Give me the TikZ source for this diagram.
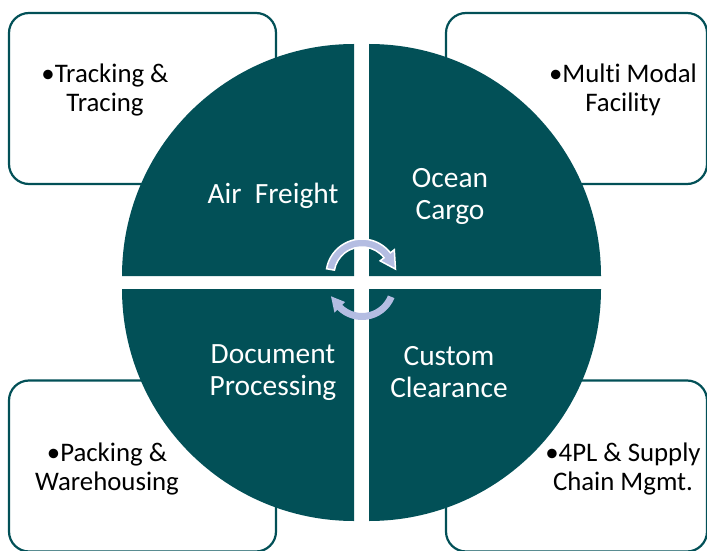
\documentclass[tikz,border=0pt]{standalone}
\usepackage{fontspec}
\setmainfont{Carlito}[Ligatures=NoCommon]
\usetikzlibrary{positioning}
\definecolor{quadTeal}{RGB}{2,80,87}
\definecolor{arrowBlue}{RGB}{180,189,226}
\tikzset{
    quadrant/.pic={
		\fill[quadTeal] (0,0) -- (232,0) arc (0:90:232) -- cycle;
	}
}
\tikzset{
    infoBox/.style={draw=quadTeal, line width=2.2pt, rounded corners=20pt, minimum width=267pt, minimum height=171pt, inner sep=0pt},
    infoText/.style={align=center, inner sep=0pt, font=\fontsize{26.8}{29.5}\selectfont},
    quadText/.style={align=center, inner sep=0pt, text=white, font=\fontsize{29.4}{32}\selectfont},
    arrowShape/.style={fill=arrowBlue}
}

\begin{document}
\begin{tikzpicture}[x=1pt,y=1pt]
        \useasboundingbox (0,0) rectangle (707,550);
        \clip (0,0) rectangle (707,550);
        % corner boxes
        \node[infoBox] (trackBox) at (142.5,451.5) {};
        \node[infoBox, minimum width=261pt] (modalBox) at (576.5,451.5) {};
        \node[infoBox] (packBox) at (142.5,84) {};
        \node[infoBox, minimum width=261pt] (supplyBox) at (576.5,84) {};
        \node[infoText] (trackText) at (105,460) {\textbullet Tracking \&\\Tracing};
        \node[infoText] (modalText) at (623,460) {\textbullet Multi Modal\\Facility};
        \node[infoText] (packText) at (107,81) {\textbullet Packing \&\\Warehousing};
        \node[infoText] (supplyText) at (623,81) {\textbullet 4PL \& Supply\\Chain Mgmt.};
        % circle
        \pic[rotate=90] at(354,274) {quadrant};
        \pic[rotate=0] at(369,274) {quadrant};
        \pic[rotate=180] at(354,261) {quadrant};
        \pic[rotate=270] at(369,261) {quadrant};
        \node[quadText] (air) at (273,354) {Air\ \ Freight};
        \node[quadText] (ocean) at (450,354) {Ocean\\Cargo};
        \node[quadText] (docs) at (273,177) {Document\\Processing};
        \node[quadText] (custom) at (449,178) {Custom\\Clearance};
        % arrows
        \begin{scope}[shift={(362,275)}]
			\filldraw[arrowShape, draw=white, line width=1.5pt] (170:36) arc (170:38:36) -- (38:41) -- (10:34) -- (38:23) -- (38:28) arc (38:170:28) -- cycle;
        \end{scope}
        \begin{scope}[shift={(362,265)}]
			\fill[arrowShape] (-22:35) arc (-22:-135:35) -- (-135:39) -- (-160:33) -- (-135:24) -- (-135:28) arc (-135:-22:28) -- cycle;
        \end{scope}
      \end{tikzpicture}
\end{document}
